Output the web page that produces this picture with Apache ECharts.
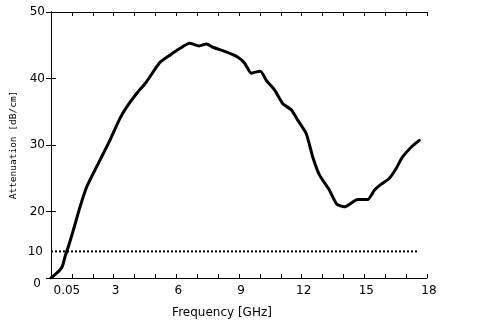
<!DOCTYPE html>
<html>
<head>
    <meta charset="utf-8">
    <title>Attenuation</title>
    <script src="https://cdn.jsdelivr.net/npm/echarts@6/dist/echarts.min.js"></script>
    <style>
        html, body { margin: 0; padding: 0; background: #fff; }
        #main { width: 487px; height: 329px; }
    </style>
</head>
<body>
    <div id="main"></div>
    <script type="text/javascript">
        // frequency in GHz
        var freq = [0, 0.43, 0.56, 0.67, 0.83, 1.07, 1.39, 1.71, 2.34, 2.82, 3.30, 3.62, 4.09, 4.57,
            5.21, 5.69, 6.16, 6.64, 6.78, 7.09, 7.44, 7.75, 8.39, 8.95, 9.27, 9.59, 9.83, 10.03,
            10.31, 10.70, 11.10, 11.50, 11.82, 12.22, 12.53, 12.85, 13.33, 13.68, 14.05, 14.68,
            15.16, 15.48, 15.72, 16.20, 16.53, 16.83, 17.25, 17.63];
        var attenuation = [10, 11.2, 11.9, 13.2, 14.7, 17.2, 20.7, 23.7, 27.7, 30.7, 34.0, 35.7, 37.7, 39.5,
            42.4, 43.5, 44.5, 45.3, 45.2, 44.9, 45.2, 44.7, 44.0, 43.2, 42.3, 40.8, 41.0, 41.1,
            39.7, 38.3, 36.2, 35.3, 33.7, 31.7, 28.2, 25.5, 23.2, 21.1, 20.7, 21.8,
            21.8, 23.2, 23.9, 25.0, 26.5, 28.2, 29.7, 30.7];
        // dotted reference level
        var refFreq = [0, 17.6];
        var refLevel = [14, 14];
        var refLabel = '10';
        var xTickLabels = { 1: '0.05', 3: '3', 6: '6', 9: '9', 12: '12', 15: '15', 18: '18' };
        var yTickLabels = { 10: '0', 20: '20', 30: '30', 40: '40', 50: '50' };

        var font = 'DejaVu Sans';
        var curve = freq.map(function (f, i) { return [f, attenuation[i]]; });
        var refLine = refFreq.map(function (f, i) { return [f, refLevel[i]]; });

        var axisBase = {
            type: 'value',
            axisLine: { show: true, lineStyle: { color: '#000', width: 1 } },
            axisTick: { show: true, inside: true, length: 5, lineStyle: { color: '#000' } },
            splitLine: { show: false }
        };

        var myChart = echarts.init(document.getElementById('main'));
        var option = {
            animation: false,
            backgroundColor: '#fff',
            grid: { left: 51, right: 60, top: 12, bottom: 51 },
            xAxis: [
                Object.assign({}, axisBase, {
                    position: 'bottom', min: 0, max: 18, interval: 1,
                    name: 'Frequency [GHz]', nameLocation: 'middle', nameGap: 29,
                    nameTextStyle: { color: '#000', fontFamily: font, fontSize: 12, padding: [0, 34, 0, 0] },
                    axisTick: { show: true, inside: true, length: 4, lineStyle: { color: '#000' } },
                    axisLabel: {
                        color: '#000', fontFamily: font, fontSize: 12, margin: 7,
                        formatter: function (v) {
                            var t = xTickLabels[v] || '';
                            return v === 1 ? '{s|' + t + '}' : '{n|' + t + '}';
                        },
                        rich: {
                            s: { fontFamily: font, fontSize: 12, color: '#000', padding: [0, 10, 0, 0] },
                            n: { fontFamily: font, fontSize: 12, color: '#000', padding: [0, 0, 0, 4] }
                        }
                    }
                }),
                Object.assign({}, axisBase, {
                    position: 'top', min: 0, max: 18, interval: 1,
                    axisTick: { show: true, inside: true, length: 4, lineStyle: { color: '#000' } },
                    axisLabel: { show: false }
                })
            ],
            yAxis: [
                Object.assign({}, axisBase, {
                    position: 'left', min: 10, max: 50, interval: 10,
                    name: 'Attenuation [dB/cm]', nameLocation: 'middle', nameGap: 29,
                    nameTextStyle: { color: '#000', fontFamily: 'DejaVu Sans Mono', fontSize: 9.5 },
                    axisLabel: {
                        color: '#000', fontFamily: font, fontSize: 12, margin: 6,
                        formatter: function (v) {
                            var t = yTickLabels[v] || '';
                            return v === 10 ? '{b|' + t + '}' : '{n|' + t + '}';
                        },
                        rich: {
                            b: { fontFamily: font, fontSize: 12, color: '#000', padding: [12, 4, 0, 0] },
                            n: { fontFamily: font, fontSize: 12, color: '#000' }
                        }
                    }
                }),
                Object.assign({}, axisBase, {
                    position: 'right', min: 10, max: 50, interval: 10,
                    axisLabel: { show: false }
                })
            ],
            series: [
                {
                    type: 'line',
                    data: refLine,
                    symbol: 'none',
                    lineStyle: { color: '#000', width: 2, type: [2, 2] },
                    markPoint: {
                        symbol: 'circle',
                        symbolSize: 0,
                        data: [{ coord: refLine[0], value: refLabel }],
                        label: {
                            show: true, position: 'left', distance: 8, formatter: refLabel,
                            color: '#000', fontFamily: font, fontSize: 12
                        }
                    },
                    z: 2
                },
                {
                    type: 'line',
                    data: curve,
                    symbol: 'none',
                    smooth: 0.2,
                    lineStyle: { color: '#000', width: 3, join: 'round', cap: 'round' },
                    z: 3
                }
            ]
        };
        myChart.setOption(option);
    </script>
</body>
</html>
